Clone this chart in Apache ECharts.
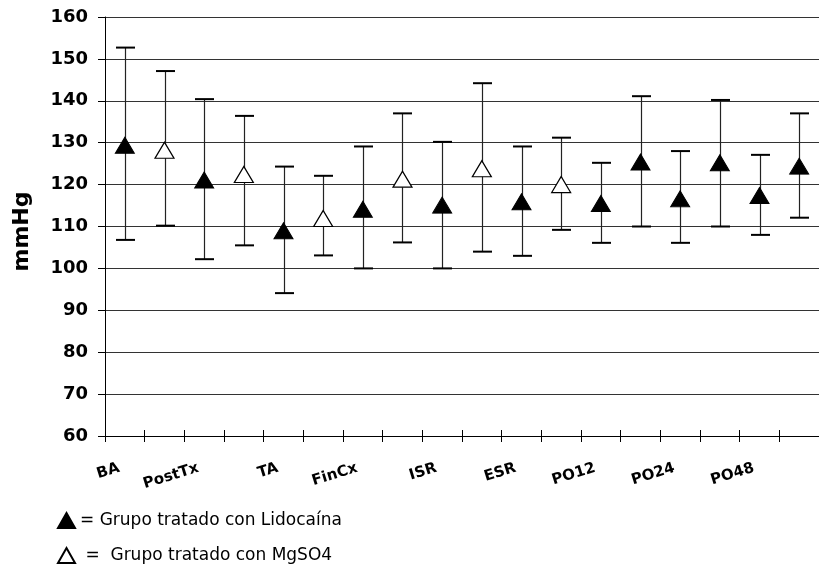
<!DOCTYPE html>
<html><head><meta charset="utf-8">
<script src="https://cdn.jsdelivr.net/npm/echarts@6/dist/echarts.min.js"></script>
<style>html,body{margin:0;padding:0;background:#fff}#c{width:819px;height:566px}</style>
</head><body><div id="c"></div>
<script>
const tickLabels = ['BA','PostTx','TA','FinCx','ISR','ESR','PO12','PO24','PO48'];
const means = [129.4,128.2,121.1,122.4,109.0,111.9,114.1,121.3,115.1,123.8,115.9,120.0,115.5,125.4,116.6,125.2,117.4,124.4];
const upper = [152.7,147.1,140.4,136.4,124.3,122.1,129.1,137.0,130.2,144.2,129.1,131.2,125.2,141.1,128.0,140.2,127.1,137.0];
const lower = [106.8,110.2,102.2,105.5,94.1,103.1,100.0,106.2,100.0,104.0,103.0,109.2,106.1,110.0,106.1,110.0,108.0,112.1];
const filled = [1,0,1,0,1,0,1,0,1,0,1,0,1,1,1,1,1,1];
const seriesNames = ['Grupo tratado con Lidocaína','Grupo tratado con MgSO4'];

const categories = [];
tickLabels.forEach(l => { categories.push(l); categories.push(l + ' '); });

const FONT = '"DejaVu Sans", Verdana, sans-serif';
const chart = echarts.init(document.getElementById('c'), null, {renderer:'canvas'});
const errData = means.map((m,i) => [i, upper[i], lower[i]]);
const legendText = {fontFamily:FONT, fontSize:17, color:'#000'};
const gridBox = {left:105, top:17, bottom:130, right:-9.6, containLabel:false};
chart.setOption({
  animation:false,
  backgroundColor:'#fff',
  grid:[Object.assign({}, gridBox), Object.assign({}, gridBox)],
  legend:[{
    orient:'vertical', left:57, top:512, padding:0, itemWidth:17, itemHeight:15,
    data:[seriesNames[0]],
    formatter: n => '= ' + n,
    textStyle:legendText
  },{
    orient:'vertical', left:57, top:547, padding:0, itemWidth:17, itemHeight:15,
    data:[seriesNames[1]],
    formatter: n => ' =  ' + n,
    textStyle:legendText
  }],
  xAxis:[{
    type:'category', gridIndex:0, data:categories, boundaryGap:true,
    axisLine:{lineStyle:{color:'#000', width:1}},
    axisTick:{show:true, interval:0, length:6, lineStyle:{color:'#000'}},
    axisLabel:{interval:1, rotate:17, margin:30, fontFamily:FONT, fontWeight:'bold', fontSize:15, color:'#000',
      formatter: v => v.trim(), padding:[0,6,0,0]}
  },{
    type:'category', gridIndex:1, data:categories, boundaryGap:true, position:'bottom',
    axisLine:{show:false},
    axisTick:{show:true, inside:true, interval:0, length:6, lineStyle:{color:'#000'}},
    axisLabel:{show:false}
  }],
  yAxis:[{
    type:'value', gridIndex:0, min:60, max:160, interval:10,
    name:'mmHg', nameLocation:'middle', nameGap:72, nameRotate:90,
    nameTextStyle:{fontFamily:FONT, fontWeight:'bold', fontSize:22, color:'#000', padding:[0,10,0,0]},
    axisLine:{show:true, lineStyle:{color:'#000'}},
    axisTick:{show:true, length:7, lineStyle:{color:'#000'}},
    axisLabel:{margin:17, fontFamily:FONT, fontWeight:'bold', fontSize:18, color:'#000'},
    splitLine:{show:true, lineStyle:{color:'#333', width:1}}
  },{
    type:'value', gridIndex:1, min:60, max:160, interval:10, show:false,
    splitLine:{show:false}
  }],
  series:[
    {
      type:'custom', xAxisIndex:0, yAxisIndex:0, data:errData, z:2, silent:true,
      renderItem:(params, api) => {
        const hi = api.coord([api.value(0), api.value(1)]);
        const lo = api.coord([api.value(0), api.value(2)]);
        const x = Math.round(hi[0]) + 0.5;
        const w = 9.5;
        return {type:'group', children:[
          {type:'line', shape:{x1:x, y1:hi[1], x2:x, y2:lo[1]}, style:{stroke:'#222', lineWidth:1.2}},
          {type:'line', shape:{x1:x-w, y1:hi[1], x2:x+w, y2:hi[1]}, style:{stroke:'#000', lineWidth:2}},
          {type:'line', shape:{x1:x-w, y1:lo[1], x2:x+w, y2:lo[1]}, style:{stroke:'#000', lineWidth:2}}
        ]};
      }
    },
    {
      name:seriesNames[0], type:'scatter', xAxisIndex:0, yAxisIndex:0, z:5,
      symbol:'triangle', symbolSize:[19,16],
      itemStyle:{color:'#000', borderColor:'#000', borderWidth:1, opacity:1},
      data: means.map((m,i) => filled[i] ? [i, m] : [i, '-'])
    },
    {
      name:seriesNames[1], type:'scatter', xAxisIndex:0, yAxisIndex:0, z:5,
      symbol:'triangle', symbolSize:[19,16],
      itemStyle:{color:'#fff', borderColor:'#000', borderWidth:1.2, opacity:1},
      data: means.map((m,i) => filled[i] ? [i, '-'] : [i, m])
    }
  ]
});
</script></body></html>
